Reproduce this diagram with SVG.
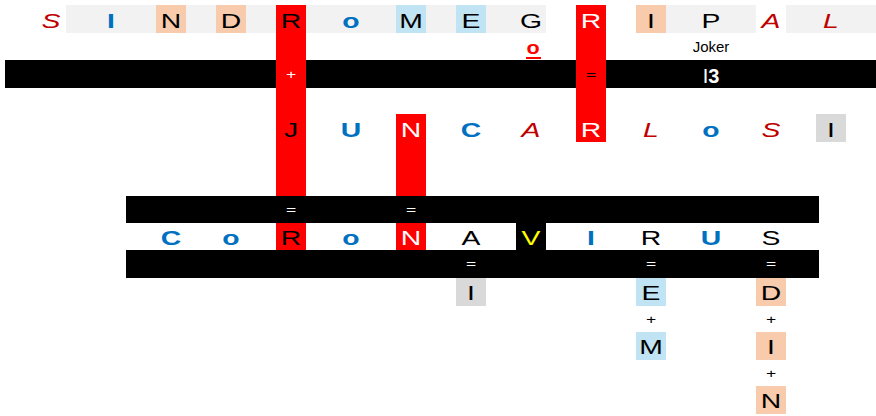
<svg xmlns="http://www.w3.org/2000/svg" width="876" height="416" viewBox="0 0 876 416">
<style>
text{font-family:"Liberation Sans",Arial,sans-serif;text-anchor:middle}
.L{font-size:21px;fill:#000}
.b{fill:#0070C0;font-weight:bold}
.i{fill:#C00000;font-style:italic}
.w{fill:#fff}
.y{fill:#FFFF00}
.s{font-size:13px;fill:#000}
.sw{font-size:13px;fill:#fff}
.bar{fill:#000}
.red{fill:#FF0000}
.g1{fill:#F2F2F2}
.g2{fill:#D9D9D9}
.pe{fill:#F8CBAD}
.bl{fill:#C0E4F4}
</style>
<g id="background">
<rect class="g1" x="66" y="5" width="480" height="28"/>
<rect class="g1" x="666" y="5" width="90" height="28"/>
<rect class="g1" x="786" y="5" width="90" height="28"/>
<rect class="bar" x="5" y="60" width="871" height="28"/>
<rect class="bar" x="126" y="196" width="693" height="27"/>
<rect class="bar" x="126" y="250" width="693" height="28"/>
</g>
<g id="connectors">
<rect class="red" x="276" y="5" width="30" height="191"/>
<rect class="red" x="576" y="5" width="30" height="137"/>
<rect class="red" x="396" y="114" width="30" height="82"/>
<text class="sw" transform="translate(291 79) scale(1.35 1)">+</text>
<text class="s" transform="translate(591 79) scale(1.35 1)">=</text>
<text class="sw" transform="translate(291 214) scale(1.35 1)">=</text>
<text class="sw" transform="translate(411 214) scale(1.35 1)">=</text>
<text class="sw" transform="translate(471 268) scale(1.35 1)">=</text>
<text class="sw" transform="translate(651 268) scale(1.35 1)">=</text>
<text class="sw" transform="translate(771 268) scale(1.35 1)">=</text>
<text class="s" transform="translate(651 324) scale(1.35 1)">+</text>
<text class="s" transform="translate(771 324) scale(1.35 1)">+</text>
<text class="s" transform="translate(771 378) scale(1.35 1)">+</text>
</g>
<g id="row1">
<text class="L i" transform="translate(51 28) scale(1.35 1)">S</text>
<text class="L b" transform="translate(111 28) scale(1.35 1)">I</text>
<g id="n1"><rect class="pe" x="156" y="5" width="30" height="28"/><text class="L" transform="translate(171 28) scale(1.35 1)">N</text></g>
<g id="d1"><rect class="pe" x="216" y="5" width="30" height="28"/><text class="L" transform="translate(231 28) scale(1.35 1)">D</text></g>
<text class="L" transform="translate(291 28) scale(1.35 1)">R</text>
<text class="L b" transform="translate(351 28) scale(1.35 1)">o</text>
<g id="m1"><rect class="bl" x="396" y="5" width="30" height="28"/><text class="L" transform="translate(411 28) scale(1.35 1)">M</text></g>
<g id="e1"><rect class="bl" x="456" y="5" width="30" height="28"/><text class="L" transform="translate(471 28) scale(1.35 1)">E</text></g>
<text class="L" transform="translate(531 28) scale(1.35 1)">G</text>
<text class="L w" transform="translate(591 28) scale(1.35 1)">R</text>
<g id="i1"><rect class="pe" x="636" y="5" width="30" height="28"/><text class="L" transform="translate(651 28) scale(1.35 1)">I</text></g>
<text class="L" transform="translate(711 28) scale(1.35 1)">P</text>
<text class="L i" transform="translate(771 28) scale(1.35 1)">A</text>
<text class="L i" transform="translate(831 28) scale(1.35 1)">L</text>
<text style="font-size:18px;font-weight:bold;fill:#FF0000" transform="translate(533 54) scale(1.2 1)">o</text>
<rect x="526" y="57" width="15" height="2" fill="#FF0000"/>
<text x="711" y="52" style="font-size:15px;fill:#000">Joker</text>
<text x="711" y="83" style="font-size:20px;fill:#fff"><tspan>I</tspan><tspan font-weight="bold">3</tspan></text>
</g>
<g id="row2">
<text class="L" transform="translate(291 137) scale(1.35 1)">J</text>
<text class="L b" transform="translate(351 137) scale(1.35 1)">U</text>
<text class="L w" transform="translate(411 137) scale(1.35 1)">N</text>
<text class="L b" transform="translate(471 137) scale(1.35 1)">C</text>
<text class="L i" transform="translate(531 137) scale(1.35 1)">A</text>
<text class="L w" transform="translate(591 137) scale(1.35 1)">R</text>
<text class="L i" transform="translate(651 137) scale(1.35 1)">L</text>
<text class="L b" transform="translate(711 137) scale(1.35 1)">o</text>
<text class="L i" transform="translate(771 137) scale(1.35 1)">S</text>
<g id="i2"><rect class="g2" x="816" y="114" width="30" height="28"/><text class="L" transform="translate(831 137) scale(1.35 1)">I</text></g>
</g>
<g id="row3">
<text class="L b" transform="translate(171 245) scale(1.35 1)">C</text>
<text class="L b" transform="translate(231 245) scale(1.35 1)">o</text>
<g id="r3"><rect class="red" x="276" y="223" width="30" height="27"/><text class="L" transform="translate(291 245) scale(1.35 1)">R</text></g>
<text class="L b" transform="translate(351 245) scale(1.35 1)">o</text>
<g id="n3"><rect class="red" x="396" y="223" width="30" height="27"/><text class="L w" transform="translate(411 245) scale(1.35 1)">N</text></g>
<text class="L" transform="translate(471 245) scale(1.35 1)">A</text>
<g id="v3"><rect class="bar" x="516" y="223" width="30" height="27"/><text class="L y" transform="translate(531 245) scale(1.35 1)">V</text></g>
<text class="L b" transform="translate(591 245) scale(1.35 1)">I</text>
<text class="L" transform="translate(651 245) scale(1.35 1)">R</text>
<text class="L b" transform="translate(711 245) scale(1.35 1)">U</text>
<text class="L" transform="translate(771 245) scale(1.35 1)">S</text>
</g>
<g id="row4">
<g id="i4"><rect class="g2" x="456" y="278" width="30" height="28"/><text class="L" transform="translate(471 300) scale(1.35 1)">I</text></g>
<g id="e4"><rect class="bl" x="636" y="278" width="30" height="28"/><text class="L" transform="translate(651 300) scale(1.35 1)">E</text></g>
<g id="d4"><rect class="pe" x="756" y="278" width="30" height="28"/><text class="L" transform="translate(771 300) scale(1.35 1)">D</text></g>
<g id="m5"><rect class="bl" x="636" y="332" width="30" height="28"/><text class="L" transform="translate(651 354) scale(1.35 1)">M</text></g>
<g id="i5"><rect class="pe" x="756" y="332" width="30" height="28"/><text class="L" transform="translate(771 354) scale(1.35 1)">I</text></g>
<g id="n6"><rect class="pe" x="756" y="386" width="30" height="28"/><text class="L" transform="translate(771 408) scale(1.35 1)">N</text></g>
</g>
</svg>
